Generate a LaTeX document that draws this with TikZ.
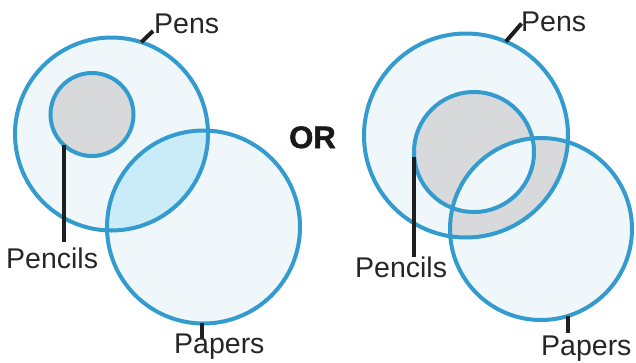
\documentclass[tikz,border=0pt]{standalone}
\usepackage{fontspec}
\setmainfont{Liberation Sans}
\newfontfamily\orfont[FakeBold=1.8]{Liberation Sans Bold}
\definecolor{ringblue}{RGB}{51,155,205}
\definecolor{lightfill}{RGB}{240,247,250}
\definecolor{cyanfill}{RGB}{202,236,248}
\definecolor{greyfill}{RGB}{215,217,219}
\tikzset{
  ring/.style={circle, draw=ringblue, line width=4pt, inner sep=0pt, outer sep=0pt},
  lbl/.style={inner sep=0pt, anchor=base west, font=\fontsize{28.5}{30}\selectfont, text=black!85},
  leader/.style={draw=black!88, line width=4pt},
}
\begin{document}
\begin{tikzpicture}[x=1pt,y=-1pt]
\useasboundingbox (0,0) rectangle (636,362);
% centres
\coordinate (cA) at (111.5,134);
\coordinate (cB) at (92,114.5);
\coordinate (cC) at (203.5,227);
\coordinate (dA) at (466,135.5);
\coordinate (dB) at (474,152);
\coordinate (dC) at (541,229);
% ---------- left fills
\fill[lightfill] (cA) circle (96.5);
\fill[lightfill] (cC) circle (96.5);
\begin{scope}
  \clip (cA) circle (96.5);
  \fill[cyanfill] (cC) circle (96.5);
\end{scope}
\fill[greyfill] (cB) circle (41.5);
% ---------- right fills
\fill[lightfill] (dA) circle (102);
\fill[lightfill] (dC) circle (91);
\begin{scope}
  \clip (dA) circle (102);
  \fill[greyfill, even odd rule] (dB) circle (60) (dC) circle (91);
\end{scope}
% ---------- outlines
\node[ring, minimum size=193pt] (pensL) at (cA) {};
\node[ring, minimum size=83pt] (pencilsL) at (cB) {};
\node[ring, minimum size=193pt] (papersL) at (cC) {};
\node[ring, minimum size=204pt] (pensR) at (dA) {};
\node[ring, minimum size=120pt] (pencilsR) at (dB) {};
\node[ring, minimum size=182pt] (papersR) at (dC) {};
% ---------- labels
\node[lbl] (tPensL) at (154,33) {Pens};
\node[lbl] (tPencilsL) at (6,268) {Pencils};
\node[lbl] (tPapersL) at (174,353) {Papers};
\node[lbl] (tPensR) at (521,31.5) {Pens};
\node[lbl] (tPencilsR) at (355,277.5) {Pencils};
\node[lbl] (tPapersR) at (541,355) {Papers};
\node[inner sep=0pt, anchor=base west, font=\orfont\fontsize{31}{31}\selectfont, text=black!90] (tOR) at (289,148) {OR};
% ---------- leaders
\coordinate (ePensL) at (153,31);
\coordinate (ePencilsL) at (63,242);
\coordinate (ePapersL) at (198.5,338);
\coordinate (ePensR) at (521.5,23.5);
\coordinate (ePencilsR) at (413,257);
\coordinate (ePapersR) at (569,333);
\draw[leader] (pensL.72) -- (ePensL);
\draw[leader] (pencilsL.227) -- (pencilsL.227 |- ePencilsL);
\draw[leader] (papersL.269) -- (papersL.269 |- ePapersL);
\draw[leader] (pensR.67) -- (ePensR);
\draw[leader] (pencilsR.185) -- (pencilsR.185 |- ePencilsR);
\draw[leader] (papersR.287) -- (papersR.287 |- ePapersR);
\end{tikzpicture}
\end{document}
